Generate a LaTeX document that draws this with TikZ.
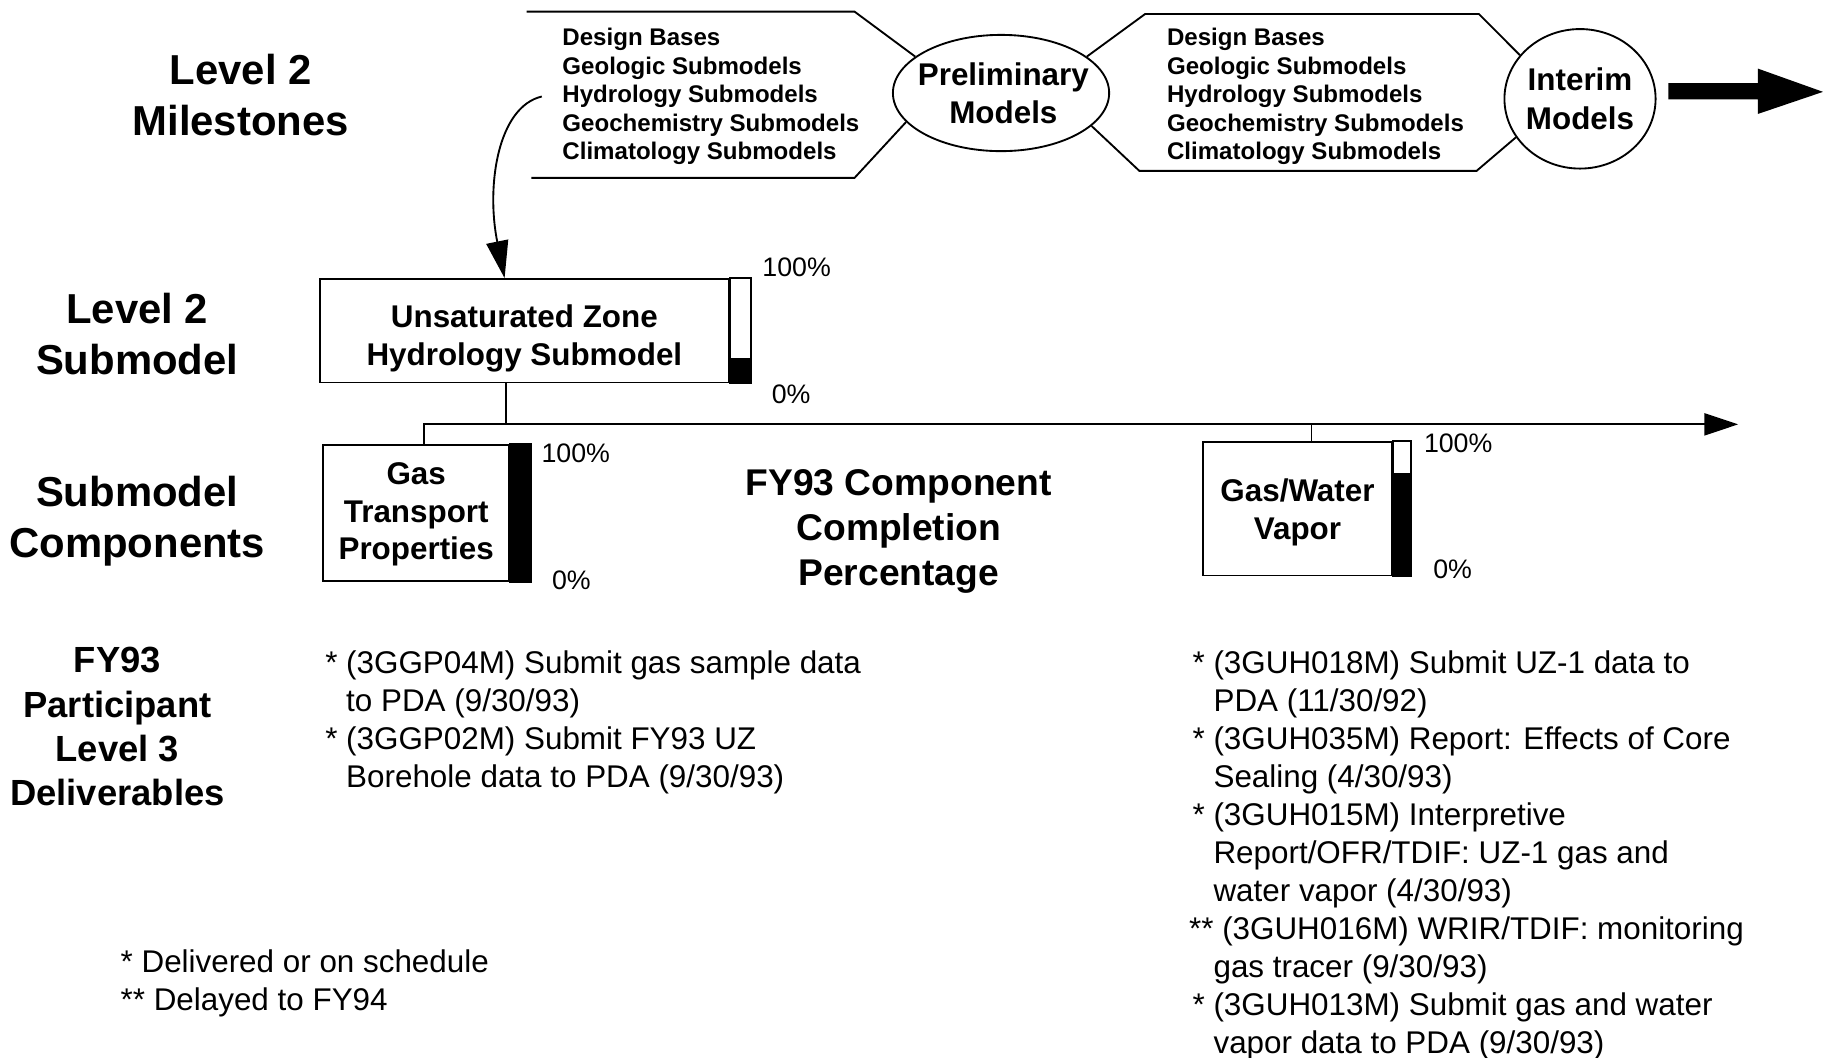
\documentclass[tikz,border=0pt]{standalone}
\usepackage{fontspec}
\setmainfont{Liberation Sans}
\usetikzlibrary{arrows.meta,shapes.geometric}

\tikzset{
  rowlabel/.style={font=\bfseries\fontsize{36}{44}\selectfont, align=center},
  listitem/.style={font=\bfseries\fontsize{20.7}{24.5}\selectfont, align=left, anchor=west, inner sep=0pt},
  model/.style={draw, ellipse, inner sep=0pt},
  modeltext/.style={font=\bfseries\fontsize{27}{33}\selectfont, align=center, inner sep=0pt},
  compbox/.style={draw, inner sep=0pt},
  comptext/.style={font=\bfseries\fontsize{27}{32.5}\selectfont, align=center, inner sep=0pt},
  pct/.style={font=\fontsize{23}{27}\selectfont, anchor=west, inner sep=0pt},
  deliv/.style={font=\fontsize{27}{32.7}\selectfont, align=left, anchor=north west, inner sep=0pt},
}

\begin{document}
\begin{tikzpicture}[x=1pt, y=-1pt, line width=1.6pt]
\useasboundingbox (0,0) rectangle (1568,910);

% row labels
\node[rowlabel] (lvlmile) at (207,82) {Level 2\\Milestones};
\node[rowlabel] (lvlsub) at (118,287.5) {Level 2\\Submodel};
\node[rowlabel] (subcomp) at (118,448) {Submodel\\Components};
\node[rowlabel, font=\bfseries\fontsize{31.3}{38}\selectfont] (delivlabel) at (101,625) {FY93\\Participant\\Level 3\\Deliverables};

% milestones
\node[model, minimum width=186pt, minimum height=100pt] (prelim) at (861,80) {};
\node[modeltext] (prelimtext) at ([xshift=2pt]prelim) {Preliminary\\Models};
\node[model, minimum width=130pt, minimum height=120pt] (interim) at (1359,85) {};
\node[modeltext] (interimtext) at (interim) {Interim\\Models};

\draw (453,10) -- (735,10) -- (prelim.157);
\draw (457,153) -- (735,153) -- (prelim.197);
\draw (prelim.23) -- (985,12) -- (1272,12) -- (interim.144);
\draw (prelim.-20) -- (980,147) -- (1270,147) -- (interim.211);

\node[listitem] (prelimlist) at (483,83) {Design Bases\\Geologic Submodels\\Hydrology Submodels\\Geochemistry Submodels\\Climatology Submodels};
\node[listitem] (interimlist) at (1003,83) {Design Bases\\Geologic Submodels\\Hydrology Submodels\\Geochemistry Submodels\\Climatology Submodels};

% big arrow to later milestones
\fill (1435,71.5) -- (1512,71.5) -- (1512,59) -- (1568,79) -- (1512,98) -- (1512,85.5) -- (1435,85.5) -- cycle;

% submodel and components
\node[compbox, minimum width=352pt, minimum height=89pt] (uz) at (451,284.5) {};
\node[comptext] (uztext) at ([yshift=-6.5pt]uz) {Unsaturated Zone\\Hydrology Submodel};
\fill ([yshift=22pt]uz.south east) rectangle ([xshift=18pt]uz.south east);
\draw (uz.north east) rectangle ([xshift=18pt]uz.south east);

\node[compbox, minimum width=160pt, minimum height=117pt] (gas) at (358,441.5) {};
\node[comptext] (gastext) at ([yshift=-1pt]gas) {Gas\\Transport\\Properties};
\filldraw (gas.north east) rectangle ([xshift=18pt]gas.south east);

\node[compbox, minimum width=162pt, minimum height=115pt] (gw) at (1116,437.5) {};
\node[comptext] (gwtext) at ([yshift=-3.5pt]gw) {Gas/Water\\Vapor};
\fill ([yshift=-28pt]gw.north east) rectangle ([xshift=16pt]gw.south east);
\draw (gw.north east) rectangle ([xshift=16pt]gw.south east);

\node[pct] (uztop) at (655,230) {100\%};
\node[pct] (uzbot) at (663,339) {0\%};
\node[pct] (gastop) at (465,390) {100\%};
\node[pct] (gasbot) at (474,499) {0\%};
\node[pct] (gwtop) at (1224,381) {100\%};
\node[pct] (gwbot) at (1232,490) {0\%};

\node[font=\bfseries\fontsize{32}{38.5}\selectfont, align=center] (pctlabel) at (773,457) {FY93 Component\\Completion\\Percentage};

% connectors
\coordinate (hook) at (466,83);
\coordinate (trunk) at (435,365);
\coordinate (gastap) at (365,365);
\coordinate (gwtap) at (1128,365);
\coordinate (axisend) at (1495,365);
\draw[-{Triangle[length=32pt,width=19pt]}] (hook) .. controls (428,92) and (418,160) .. ([xshift=-17pt]uz.north);
\draw (uz.south -| trunk) -- (trunk);
\draw[-{Triangle[length=29pt,width=19pt]}] (gas.north -| gastap) -- (gastap) -- (axisend);
\draw (gw.north -| gwtap) -- (gwtap);

% deliverables
\node[deliv] (gaslist) at (297,559) {\llap{*\ }(3GGP04M) Submit gas sample data\\to PDA (9/30/93)\\\llap{*\ }(3GGP02M) Submit FY93 UZ\\Borehole data to PDA (9/30/93)};
\node[deliv] (gwlist) at (1043,559) {\llap{*\ }(3GUH018M) Submit UZ-1 data to\\PDA (11/30/92)\\\llap{*\ }(3GUH035M) Report: Effects of Core\\Sealing (4/30/93)\\\llap{*\ }(3GUH015M) Interpretive\\Report/OFR/TDIF: UZ-1 gas and\\water vapor (4/30/93)\\\llap{**}\ (3GUH016M) WRIR/TDIF: monitoring\\gas tracer (9/30/93)\\\llap{*\ }(3GUH013M) Submit gas and water\\vapor data to PDA (9/30/93)};

\node[deliv, anchor=west] (legend) at (103,845.5) {*\ Delivered or on schedule\\**\ Delayed to FY94};
\end{tikzpicture}
\end{document}
